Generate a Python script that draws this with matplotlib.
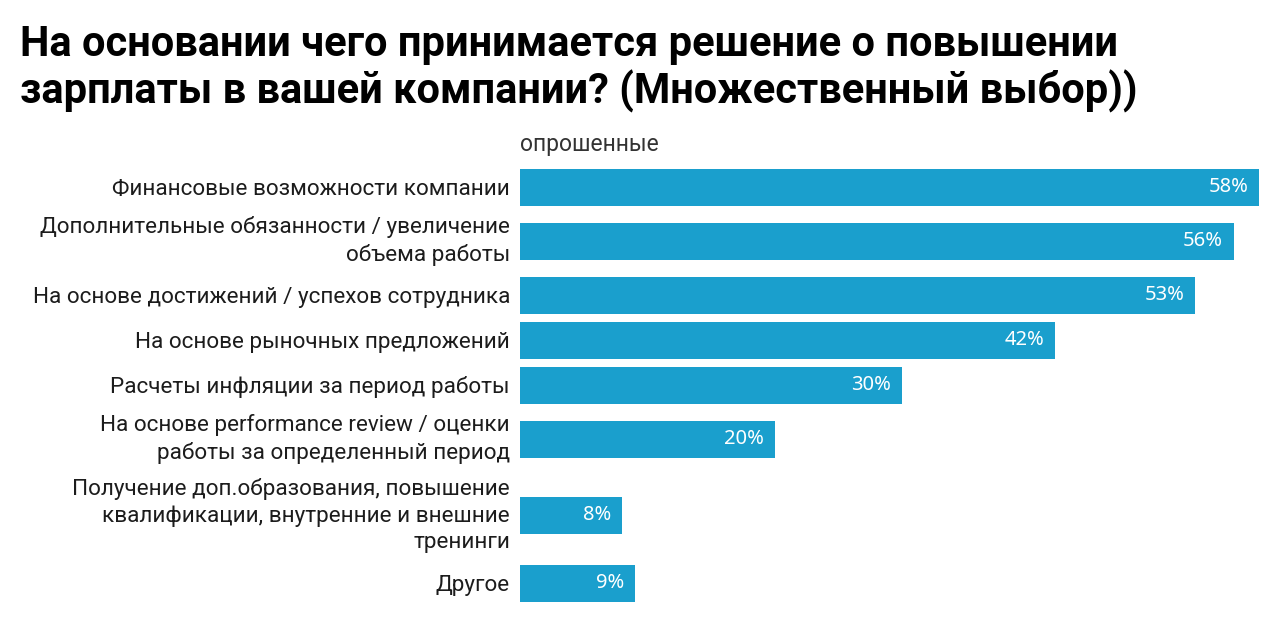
import numpy as np
import matplotlib
matplotlib.use("Agg")
import matplotlib.pyplot as plt
from matplotlib.transforms import ScaledTranslation

plt.rcParams['font.family'] = ['Roboto', 'DejaVu Sans']

# Data
categories = [
    "Финансовые возможности компании",
    "Дополнительные обязанности / увеличение\nобъема работы",
    "На основе достижений / успехов сотрудника",
    "На основе рыночных предложений",
    "Расчеты инфляции за период работы",
    "На основе performance review / оценки\nработы за определенный период",
    "Получение доп.образования, повышение\nквалификации, внутренние и внешние\nтренинги",
    "Другое",
]
values = [58, 56, 53, 42, 30, 20, 8, 9]
value_labels = ["58%", "56%", "53%", "42%", "30%", "20%", "8%", "9%"]
title = "На основании чего принимается решение о повышении\nзарплаты в вашей компании? (Множественный выбор))"
series_name = "опрошенные"

BAR_COLOR = "#1a9fcd"
W, H = 1280, 642

fig = plt.figure(figsize=(W / 100, H / 100), dpi=100)

# axes in pixel-like units (y grows downward)
ax_left, ax_right = 520, 1259
ax_top, ax_bottom = 160, 612
ax = fig.add_axes([ax_left / W, 1 - ax_bottom / H,
                   (ax_right - ax_left) / W, (ax_bottom - ax_top) / H])

# row heights grow with the number of label lines
nlines = [c.count("\n") + 1 for c in categories]
row_h = [max(45, 27 * n + 9) for n in nlines]
pos = [187.0]
for i in range(1, len(categories)):
    pos.append(pos[-1] + (row_h[i - 1] + row_h[i]) / 2)
pos = np.array(pos)

ax.barh(pos, values, height=37, color=BAR_COLOR)
ax.set_xlim(0, max(values))
ax.set_ylim(ax_bottom, ax_top)

for y, v, lab in zip(pos, values, value_labels):
    ax.text(v - 0.85, y, lab, ha="right", va="center", color="white",
            fontsize=14.5, family=["Noto Sans", "DejaVu Sans"], clip_on=False)

# category labels, right aligned just left of the bars
lab_tr = ax.get_yaxis_transform() + ScaledTranslation(-10 / 100, 0, fig.dpi_scale_trans)
for y, cat, n in zip(pos, categories, nlines):
    ax.text(0, y, cat, transform=lab_tr, ha="right",
            va="center" if n > 1 else "center_baseline",
            multialignment="right", fontsize=16.2, color="#1c1c1c",
            linespacing=1.32, clip_on=False)

ax.set_yticks([])
ax.set_xticks([])
for s in ax.spines.values():
    s.set_visible(False)

fig.text(ax_left / W, 1 - 145 / H, series_name, fontsize=16.5, color="#333333",
         ha="left", va="center")

fig.text(20 / W, 1 - 24 / H, title, fontsize=30, fontweight="bold", color="black",
         ha="left", va="top", linespacing=1.13)

fig.savefig("out.png", dpi=100)
